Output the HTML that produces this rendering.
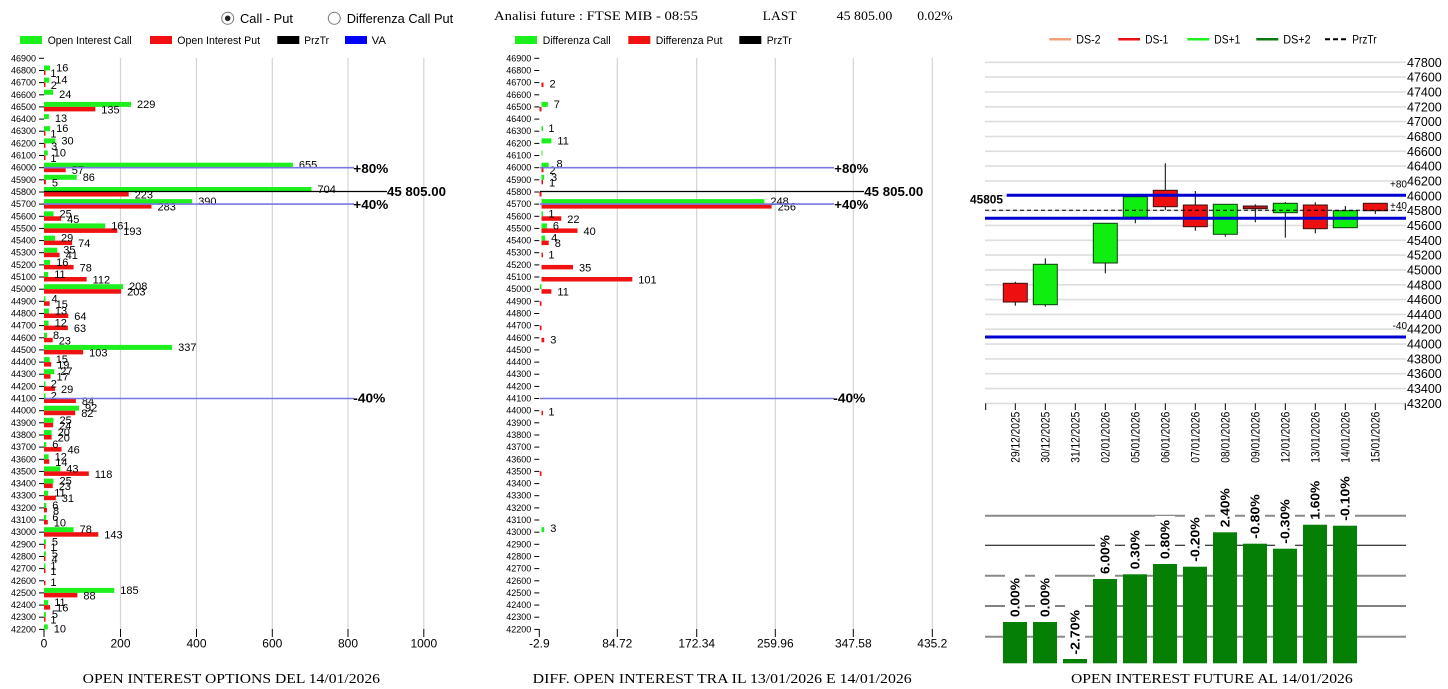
<!DOCTYPE html>
<html><head><meta charset="utf-8"><style>
html,body{margin:0;padding:0;background:#fff;}
svg{display:block;}
svg text{font-family:"Liberation Sans",Arial,sans-serif;fill:#000;}
.tk{font-size:9px;text-anchor:end;}
.v{font-size:11px;}
.G{fill:#1ef01e;}
.R{fill:#f01212;}
.tm{stroke:#000;stroke-width:1;}
.sf{font-family:"Liberation Serif","Times New Roman",serif !important;}
.b{font-weight:bold;}
</style></head><body>
<svg width="1448" height="689" viewBox="0 0 1448 689" xmlns="http://www.w3.org/2000/svg">
<rect width="1448" height="689" fill="#fff"/>

<!-- HEADER -->
<circle cx="227.7" cy="18.3" r="6" fill="#fff" stroke="#777" stroke-width="1"/>
<circle cx="227.7" cy="18.3" r="2.8" fill="#222"/>
<text x="240" y="22.8" font-size="13" textLength="53" lengthAdjust="spacingAndGlyphs">Call - Put</text>
<circle cx="334.3" cy="18.3" r="6" fill="#fff" stroke="#777" stroke-width="1"/>
<text x="346.7" y="22.8" font-size="13" textLength="106.5" lengthAdjust="spacingAndGlyphs">Differenza Call Put</text>
<text class="sf" x="494" y="20" font-size="13" textLength="204" lengthAdjust="spacingAndGlyphs">Analisi future : FTSE MIB - 08:55</text>
<text class="sf" x="762.7" y="20" font-size="13" textLength="34" lengthAdjust="spacingAndGlyphs">LAST</text>
<text class="sf" x="836.7" y="20" font-size="13" textLength="55.6" lengthAdjust="spacingAndGlyphs">45 805.00</text>
<text class="sf" x="917.3" y="20" font-size="13" textLength="35.3" lengthAdjust="spacingAndGlyphs">0.02%</text>

<!-- LEFT LEGEND -->
<rect x="20" y="36" width="22" height="8" class="G"/>
<text x="47.7" y="44" font-size="11" textLength="84" lengthAdjust="spacingAndGlyphs">Open Interest Call</text>
<rect x="150" y="36" width="22" height="8" class="R"/>
<text x="177.3" y="44" font-size="11" textLength="82.7" lengthAdjust="spacingAndGlyphs">Open Interest Put</text>
<rect x="277.3" y="36" width="22" height="8" fill="#000"/>
<text x="304.3" y="44" font-size="11" textLength="24.7" lengthAdjust="spacingAndGlyphs">PrzTr</text>
<rect x="345" y="36" width="22" height="8" fill="#0000ff"/>
<text x="371.7" y="44" font-size="11" textLength="14.3" lengthAdjust="spacingAndGlyphs">VA</text>

<!-- MIDDLE LEGEND -->
<rect x="515" y="36" width="22" height="8" class="G"/>
<text x="542.7" y="44" font-size="11" textLength="68" lengthAdjust="spacingAndGlyphs">Differenza Call</text>
<rect x="628.3" y="36" width="22" height="8" class="R"/>
<text x="655.7" y="44" font-size="11" textLength="66.7" lengthAdjust="spacingAndGlyphs">Differenza Put</text>
<rect x="739.3" y="36" width="22" height="8" fill="#000"/>
<text x="766.7" y="44" font-size="11" textLength="25" lengthAdjust="spacingAndGlyphs">PrzTr</text>

<!-- LEFT CHART GRID -->
<g stroke="#d4d4d4" stroke-width="1.2">
<line x1="120.5" y1="58" x2="120.5" y2="629"/>
<line x1="196.5" y1="58" x2="196.5" y2="629"/>
<line x1="272.3" y1="58" x2="272.3" y2="629"/>
<line x1="348" y1="58" x2="348" y2="629"/>
<line x1="423.8" y1="58" x2="423.8" y2="629"/>
</g>
<g class="tm">
<line x1="44" y1="629" x2="44" y2="637"/>
<line x1="120.5" y1="629" x2="120.5" y2="637"/>
<line x1="196.5" y1="629" x2="196.5" y2="637"/>
<line x1="272.3" y1="629" x2="272.3" y2="637"/>
<line x1="348" y1="629" x2="348" y2="637"/>
<line x1="423.8" y1="629" x2="423.8" y2="637"/>
</g>
<g font-size="12" text-anchor="middle">
<text x="44" y="647.5">0</text>
<text x="120.5" y="647.5">200</text>
<text x="196.5" y="647.5">400</text>
<text x="272.3" y="647.5">600</text>
<text x="348" y="647.5">800</text>
<text x="423.8" y="647.5">1000</text>
</g>

<!-- LEFT ROWS -->
<g transform="translate(0,58.3)"><text class="tk" x="36" y="3">46900</text><path class="tm" d="M39 0h5"/></g>
<g transform="translate(0,70.5)"><text class="tk" x="36" y="3">46800</text><path class="tm" d="M39 0h5"/><rect x="44" y="-5" width="6.1" height="5" class="G"/><rect x="44" y="0" width="1.5" height="4.5" class="R"/><text class="v" x="56.1" y="1">16</text><text class="v" x="50.4" y="6.5">1</text></g>
<g transform="translate(0,82.6)"><text class="tk" x="36" y="3">46700</text><path class="tm" d="M39 0h5"/><rect x="44" y="-5" width="5.3" height="5" class="G"/><rect x="44" y="0" width="1.5" height="4.5" class="R"/><text class="v" x="55.3" y="1">14</text><text class="v" x="50.8" y="6.5">2</text></g>
<g transform="translate(0,94.8)"><text class="tk" x="36" y="3">46600</text><path class="tm" d="M39 0h5"/><rect x="44" y="-5" width="9.1" height="5" class="G"/><text class="v" x="59.1" y="3">24</text></g>
<g transform="translate(0,106.9)"><text class="tk" x="36" y="3">46500</text><path class="tm" d="M39 0h5"/><rect x="44" y="-5" width="87" height="5" class="G"/><rect x="44" y="0" width="51.3" height="4.5" class="R"/><text class="v" x="137" y="1">229</text><text class="v" x="101.3" y="6.5">135</text></g>
<g transform="translate(0,119.1)"><text class="tk" x="36" y="3">46400</text><path class="tm" d="M39 0h5"/><rect x="44" y="-5" width="4.9" height="5" class="G"/><text class="v" x="54.9" y="3">13</text></g>
<g transform="translate(0,131.2)"><text class="tk" x="36" y="3">46300</text><path class="tm" d="M39 0h5"/><rect x="44" y="-5" width="6.1" height="5" class="G"/><rect x="44" y="0" width="1.5" height="4.5" class="R"/><text class="v" x="56.1" y="1">16</text><text class="v" x="50.4" y="6.5">1</text></g>
<g transform="translate(0,143.4)"><text class="tk" x="36" y="3">46200</text><path class="tm" d="M39 0h5"/><rect x="44" y="-5" width="11.4" height="5" class="G"/><rect x="44" y="0" width="1.5" height="4.5" class="R"/><text class="v" x="61.4" y="1">30</text><text class="v" x="51.1" y="6.5">3</text></g>
<g transform="translate(0,155.5)"><text class="tk" x="36" y="3">46100</text><path class="tm" d="M39 0h5"/><rect x="44" y="-5" width="3.8" height="5" class="G"/><rect x="44" y="0" width="1.5" height="4.5" class="R"/><text class="v" x="53.8" y="1">10</text><text class="v" x="50.4" y="6.5">1</text></g>
<g transform="translate(0,167.7)"><text class="tk" x="36" y="3">46000</text><path class="tm" d="M39 0h5"/><rect x="44" y="-5" width="248.9" height="5" class="G"/><rect x="44" y="0" width="21.7" height="4.5" class="R"/><text class="v" x="298.9" y="1">655</text><text class="v" x="71.7" y="6.5">57</text></g>
<g transform="translate(0,179.8)"><text class="tk" x="36" y="3">45900</text><path class="tm" d="M39 0h5"/><rect x="44" y="-5" width="32.7" height="5" class="G"/><rect x="44" y="0" width="1.9" height="4.5" class="R"/><text class="v" x="82.7" y="1">86</text><text class="v" x="51.9" y="6.5">5</text></g>
<g transform="translate(0,192)"><text class="tk" x="36" y="3">45800</text><path class="tm" d="M39 0h5"/><rect x="44" y="-5" width="267.5" height="5" class="G"/><rect x="44" y="0" width="84.7" height="4.5" class="R"/><text class="v" x="317.5" y="1">704</text><text class="v" x="134.7" y="6.5">223</text></g>
<g transform="translate(0,204.1)"><text class="tk" x="36" y="3">45700</text><path class="tm" d="M39 0h5"/><rect x="44" y="-5" width="148.2" height="5" class="G"/><rect x="44" y="0" width="107.5" height="4.5" class="R"/><text class="v" x="198.2" y="1">390</text><text class="v" x="157.5" y="6.5">283</text></g>
<g transform="translate(0,216.3)"><text class="tk" x="36" y="3">45600</text><path class="tm" d="M39 0h5"/><rect x="44" y="-5" width="9.5" height="5" class="G"/><rect x="44" y="0" width="17.1" height="4.5" class="R"/><text class="v" x="59.5" y="1">25</text><text class="v" x="67.1" y="6.5">45</text></g>
<g transform="translate(0,228.4)"><text class="tk" x="36" y="3">45500</text><path class="tm" d="M39 0h5"/><rect x="44" y="-5" width="61.2" height="5" class="G"/><rect x="44" y="0" width="73.3" height="4.5" class="R"/><text class="v" x="111.2" y="1">161</text><text class="v" x="123.3" y="6.5">193</text></g>
<g transform="translate(0,240.6)"><text class="tk" x="36" y="3">45400</text><path class="tm" d="M39 0h5"/><rect x="44" y="-5" width="11" height="5" class="G"/><rect x="44" y="0" width="28.1" height="4.5" class="R"/><text class="v" x="61" y="1">29</text><text class="v" x="78.1" y="6.5">74</text></g>
<g transform="translate(0,252.7)"><text class="tk" x="36" y="3">45300</text><path class="tm" d="M39 0h5"/><rect x="44" y="-5" width="13.3" height="5" class="G"/><rect x="44" y="0" width="15.6" height="4.5" class="R"/><text class="v" x="63.3" y="1">35</text><text class="v" x="65.6" y="6.5">41</text></g>
<g transform="translate(0,264.9)"><text class="tk" x="36" y="3">45200</text><path class="tm" d="M39 0h5"/><rect x="44" y="-5" width="6.1" height="5" class="G"/><rect x="44" y="0" width="29.6" height="4.5" class="R"/><text class="v" x="56.1" y="1">16</text><text class="v" x="79.6" y="6.5">78</text></g>
<g transform="translate(0,277)"><text class="tk" x="36" y="3">45100</text><path class="tm" d="M39 0h5"/><rect x="44" y="-5" width="4.2" height="5" class="G"/><rect x="44" y="0" width="42.6" height="4.5" class="R"/><text class="v" x="54.2" y="1">11</text><text class="v" x="92.6" y="6.5">112</text></g>
<g transform="translate(0,289.2)"><text class="tk" x="36" y="3">45000</text><path class="tm" d="M39 0h5"/><rect x="44" y="-5" width="79" height="5" class="G"/><rect x="44" y="0" width="77.1" height="4.5" class="R"/><text class="v" x="129" y="1">208</text><text class="v" x="127.1" y="6.5">203</text></g>
<g transform="translate(0,301.3)"><text class="tk" x="36" y="3">44900</text><path class="tm" d="M39 0h5"/><rect x="44" y="-5" width="1.5" height="5" class="G"/><rect x="44" y="0" width="5.7" height="4.5" class="R"/><text class="v" x="51.5" y="1">4</text><text class="v" x="55.7" y="6.5">15</text></g>
<g transform="translate(0,313.5)"><text class="tk" x="36" y="3">44800</text><path class="tm" d="M39 0h5"/><rect x="44" y="-5" width="4.9" height="5" class="G"/><rect x="44" y="0" width="24.3" height="4.5" class="R"/><text class="v" x="54.9" y="1">13</text><text class="v" x="74.3" y="6.5">64</text></g>
<g transform="translate(0,325.6)"><text class="tk" x="36" y="3">44700</text><path class="tm" d="M39 0h5"/><rect x="44" y="-5" width="4.6" height="5" class="G"/><rect x="44" y="0" width="23.9" height="4.5" class="R"/><text class="v" x="54.6" y="1">12</text><text class="v" x="73.9" y="6.5">63</text></g>
<g transform="translate(0,337.8)"><text class="tk" x="36" y="3">44600</text><path class="tm" d="M39 0h5"/><rect x="44" y="-5" width="3" height="5" class="G"/><rect x="44" y="0" width="8.7" height="4.5" class="R"/><text class="v" x="53" y="1">8</text><text class="v" x="58.7" y="6.5">23</text></g>
<g transform="translate(0,349.9)"><text class="tk" x="36" y="3">44500</text><path class="tm" d="M39 0h5"/><rect x="44" y="-5" width="128.1" height="5" class="G"/><rect x="44" y="0" width="39.1" height="4.5" class="R"/><text class="v" x="178.1" y="1">337</text><text class="v" x="89.1" y="6.5">103</text></g>
<g transform="translate(0,362.1)"><text class="tk" x="36" y="3">44400</text><path class="tm" d="M39 0h5"/><rect x="44" y="-5" width="5.7" height="5" class="G"/><rect x="44" y="0" width="7.2" height="4.5" class="R"/><text class="v" x="55.7" y="1">15</text><text class="v" x="57.2" y="6.5">19</text></g>
<g transform="translate(0,374.2)"><text class="tk" x="36" y="3">44300</text><path class="tm" d="M39 0h5"/><rect x="44" y="-5" width="10.3" height="5" class="G"/><rect x="44" y="0" width="6.5" height="4.5" class="R"/><text class="v" x="60.3" y="1">27</text><text class="v" x="56.5" y="6.5">17</text></g>
<g transform="translate(0,386.4)"><text class="tk" x="36" y="3">44200</text><path class="tm" d="M39 0h5"/><rect x="44" y="-5" width="1.5" height="5" class="G"/><rect x="44" y="0" width="11" height="4.5" class="R"/><text class="v" x="50.8" y="1">2</text><text class="v" x="61" y="6.5">29</text></g>
<g transform="translate(0,398.5)"><text class="tk" x="36" y="3">44100</text><path class="tm" d="M39 0h5"/><rect x="44" y="-5" width="1.5" height="5" class="G"/><rect x="44" y="0" width="31.9" height="4.5" class="R"/><text class="v" x="50.8" y="1">2</text><text class="v" x="81.9" y="6.5">84</text></g>
<g transform="translate(0,410.7)"><text class="tk" x="36" y="3">44000</text><path class="tm" d="M39 0h5"/><rect x="44" y="-5" width="35" height="5" class="G"/><rect x="44" y="0" width="31.2" height="4.5" class="R"/><text class="v" x="85" y="1">92</text><text class="v" x="81.2" y="6.5">82</text></g>
<g transform="translate(0,422.8)"><text class="tk" x="36" y="3">43900</text><path class="tm" d="M39 0h5"/><rect x="44" y="-5" width="9.5" height="5" class="G"/><rect x="44" y="0" width="9.1" height="4.5" class="R"/><text class="v" x="59.5" y="1">25</text><text class="v" x="59.1" y="6.5">24</text></g>
<g transform="translate(0,435)"><text class="tk" x="36" y="3">43800</text><path class="tm" d="M39 0h5"/><rect x="44" y="-5" width="7.6" height="5" class="G"/><rect x="44" y="0" width="7.6" height="4.5" class="R"/><text class="v" x="57.6" y="1">20</text><text class="v" x="57.6" y="6.5">20</text></g>
<g transform="translate(0,447.1)"><text class="tk" x="36" y="3">43700</text><path class="tm" d="M39 0h5"/><rect x="44" y="-5" width="2.3" height="5" class="G"/><rect x="44" y="0" width="17.5" height="4.5" class="R"/><text class="v" x="52.3" y="1">6</text><text class="v" x="67.5" y="6.5">46</text></g>
<g transform="translate(0,459.3)"><text class="tk" x="36" y="3">43600</text><path class="tm" d="M39 0h5"/><rect x="44" y="-5" width="4.6" height="5" class="G"/><rect x="44" y="0" width="5.3" height="4.5" class="R"/><text class="v" x="54.6" y="1">12</text><text class="v" x="55.3" y="6.5">14</text></g>
<g transform="translate(0,471.4)"><text class="tk" x="36" y="3">43500</text><path class="tm" d="M39 0h5"/><rect x="44" y="-5" width="16.3" height="5" class="G"/><rect x="44" y="0" width="44.8" height="4.5" class="R"/><text class="v" x="66.3" y="1">43</text><text class="v" x="94.8" y="6.5">118</text></g>
<g transform="translate(0,483.6)"><text class="tk" x="36" y="3">43400</text><path class="tm" d="M39 0h5"/><rect x="44" y="-5" width="9.5" height="5" class="G"/><rect x="44" y="0" width="8.7" height="4.5" class="R"/><text class="v" x="59.5" y="1">25</text><text class="v" x="58.7" y="6.5">23</text></g>
<g transform="translate(0,495.7)"><text class="tk" x="36" y="3">43300</text><path class="tm" d="M39 0h5"/><rect x="44" y="-5" width="4.2" height="5" class="G"/><rect x="44" y="0" width="11.8" height="4.5" class="R"/><text class="v" x="54.2" y="1">11</text><text class="v" x="61.8" y="6.5">31</text></g>
<g transform="translate(0,507.9)"><text class="tk" x="36" y="3">43200</text><path class="tm" d="M39 0h5"/><rect x="44" y="-5" width="2.3" height="5" class="G"/><rect x="44" y="0" width="3" height="4.5" class="R"/><text class="v" x="52.3" y="1">6</text><text class="v" x="53" y="6.5">8</text></g>
<g transform="translate(0,520)"><text class="tk" x="36" y="3">43100</text><path class="tm" d="M39 0h5"/><rect x="44" y="-5" width="2.3" height="5" class="G"/><rect x="44" y="0" width="3.8" height="4.5" class="R"/><text class="v" x="52.3" y="1">6</text><text class="v" x="53.8" y="6.5">10</text></g>
<g transform="translate(0,532.2)"><text class="tk" x="36" y="3">43000</text><path class="tm" d="M39 0h5"/><rect x="44" y="-5" width="29.6" height="5" class="G"/><rect x="44" y="0" width="54.3" height="4.5" class="R"/><text class="v" x="79.6" y="1">78</text><text class="v" x="104.3" y="6.5">143</text></g>
<g transform="translate(0,544.3)"><text class="tk" x="36" y="3">42900</text><path class="tm" d="M39 0h5"/><rect x="44" y="-5" width="1.9" height="5" class="G"/><rect x="44" y="0" width="1.5" height="4.5" class="R"/><text class="v" x="51.9" y="1">5</text><text class="v" x="50.4" y="6.5">1</text></g>
<g transform="translate(0,556.5)"><text class="tk" x="36" y="3">42800</text><path class="tm" d="M39 0h5"/><rect x="44" y="-5" width="1.9" height="5" class="G"/><rect x="44" y="0" width="1.5" height="4.5" class="R"/><text class="v" x="51.9" y="1">5</text><text class="v" x="51.5" y="6.5">4</text></g>
<g transform="translate(0,568.6)"><text class="tk" x="36" y="3">42700</text><path class="tm" d="M39 0h5"/><rect x="44" y="-5" width="1.5" height="5" class="G"/><rect x="44" y="0" width="1.5" height="4.5" class="R"/><text class="v" x="50.4" y="1">1</text><text class="v" x="50.4" y="6.5">1</text></g>
<g transform="translate(0,580.8)"><text class="tk" x="36" y="3">42600</text><path class="tm" d="M39 0h5"/><rect x="44" y="0" width="1.5" height="4.5" class="R"/><text class="v" x="50.4" y="5">1</text></g>
<g transform="translate(0,592.9)"><text class="tk" x="36" y="3">42500</text><path class="tm" d="M39 0h5"/><rect x="44" y="-5" width="70.3" height="5" class="G"/><rect x="44" y="0" width="33.4" height="4.5" class="R"/><text class="v" x="120.3" y="1">185</text><text class="v" x="83.4" y="6.5">88</text></g>
<g transform="translate(0,605.1)"><text class="tk" x="36" y="3">42400</text><path class="tm" d="M39 0h5"/><rect x="44" y="-5" width="4.2" height="5" class="G"/><rect x="44" y="0" width="6.1" height="4.5" class="R"/><text class="v" x="54.2" y="1">11</text><text class="v" x="56.1" y="6.5">16</text></g>
<g transform="translate(0,617.2)"><text class="tk" x="36" y="3">42300</text><path class="tm" d="M39 0h5"/><rect x="44" y="-5" width="1.9" height="5" class="G"/><rect x="44" y="0" width="1.5" height="4.5" class="R"/><text class="v" x="51.9" y="1">5</text><text class="v" x="50.4" y="6.5">1</text></g>
<g transform="translate(0,629.4)"><text class="tk" x="36" y="3">42200</text><path class="tm" d="M39 0h5"/><rect x="44" y="-5" width="3.8" height="5" class="G"/><text class="v" x="53.8" y="3">10</text></g>

<!-- LEFT overlay lines -->
<g stroke="#7878e0" stroke-width="1.6">
<line x1="44" y1="167.7" x2="354" y2="167.7"/>
<line x1="44" y1="204.1" x2="354" y2="204.1"/>
<line x1="44" y1="398.5" x2="354" y2="398.5"/>
</g>
<line x1="44" y1="191.5" x2="387" y2="191.5" stroke="#000" stroke-width="1.2"/>
<g class="b" font-size="13">
<text x="353.3" y="173" textLength="35" lengthAdjust="spacingAndGlyphs">+80%</text>
<text x="353.3" y="209" textLength="35" lengthAdjust="spacingAndGlyphs">+40%</text>
<text x="353.3" y="402.5" textLength="32" lengthAdjust="spacingAndGlyphs">-40%</text>
<text x="387" y="196" textLength="59" lengthAdjust="spacingAndGlyphs">45 805.00</text>
</g>

<!-- MIDDLE CHART GRID -->
<g stroke="#d4d4d4" stroke-width="1.2">
<line x1="617.3" y1="58" x2="617.3" y2="629"/>
<line x1="696.7" y1="58" x2="696.7" y2="629"/>
<line x1="775.3" y1="58" x2="775.3" y2="629"/>
<line x1="853.3" y1="58" x2="853.3" y2="629"/>
<line x1="932.3" y1="58" x2="932.3" y2="629"/>
</g>
<g class="tm">
<line x1="539.3" y1="629" x2="539.3" y2="637"/>
<line x1="617.3" y1="629" x2="617.3" y2="637"/>
<line x1="696.7" y1="629" x2="696.7" y2="637"/>
<line x1="775.3" y1="629" x2="775.3" y2="637"/>
<line x1="853.3" y1="629" x2="853.3" y2="637"/>
<line x1="932.3" y1="629" x2="932.3" y2="637"/>
</g>
<g font-size="12" text-anchor="middle">
<text x="539.3" y="647.5">-2.9</text>
<text x="617.3" y="647.5">84.72</text>
<text x="696.7" y="647.5">172.34</text>
<text x="775.3" y="647.5">259.96</text>
<text x="853.3" y="647.5">347.58</text>
<text x="932.3" y="647.5">435.2</text>
</g>

<!-- MIDDLE ROWS -->
<g transform="translate(0,58.3)"><text class="tk" x="531.3" y="3">46900</text><path class="tm" d="M534.3 0h5"/></g>
<g transform="translate(0,70.5)"><text class="tk" x="531.3" y="3">46800</text><path class="tm" d="M534.3 0h5"/></g>
<g transform="translate(0,82.6)"><text class="tk" x="531.3" y="3">46700</text><path class="tm" d="M534.3 0h5"/><rect x="541.5" y="0" width="2" height="4.5" class="R"/><text class="v" x="549.5" y="5">2</text></g>
<g transform="translate(0,94.8)"><text class="tk" x="531.3" y="3">46600</text><path class="tm" d="M534.3 0h5"/></g>
<g transform="translate(0,106.9)"><text class="tk" x="531.3" y="3">46500</text><path class="tm" d="M534.3 0h5"/><rect x="541.5" y="-5" width="6.3" height="5" class="G"/><rect x="539.5" y="0" width="2" height="4.5" class="R"/><text class="v" x="553.8" y="1">7</text></g>
<g transform="translate(0,119.1)"><text class="tk" x="531.3" y="3">46400</text><path class="tm" d="M534.3 0h5"/></g>
<g transform="translate(0,131.2)"><text class="tk" x="531.3" y="3">46300</text><path class="tm" d="M534.3 0h5"/><rect x="541.5" y="-5" width="1.5" height="5" class="G"/><text class="v" x="548.4" y="1">1</text></g>
<g transform="translate(0,143.4)"><text class="tk" x="531.3" y="3">46200</text><path class="tm" d="M534.3 0h5"/><rect x="541.5" y="-5" width="9.9" height="5" class="G"/><text class="v" x="557.4" y="1">11</text></g>
<g transform="translate(0,155.5)"><text class="tk" x="531.3" y="3">46100</text><path class="tm" d="M534.3 0h5"/><rect x="541.5" y="-5" width="1" height="5" class="G"/></g>
<g transform="translate(0,167.7)"><text class="tk" x="531.3" y="3">46000</text><path class="tm" d="M534.3 0h5"/><rect x="541.5" y="-5" width="7.2" height="5" class="G"/><rect x="541.5" y="0" width="2" height="4.5" class="R"/><text class="v" x="556.5" y="0">8</text><text class="v" x="549.5" y="6.5">2</text></g>
<g transform="translate(0,179.8)"><text class="tk" x="531.3" y="3">45900</text><path class="tm" d="M534.3 0h5"/><rect x="541.5" y="-5" width="2.7" height="5" class="G"/><rect x="541.5" y="0" width="1.5" height="4.5" class="R"/><text class="v" x="551" y="1">3</text><text class="v" x="549" y="6.5">1</text></g>
<g transform="translate(0,192)"><text class="tk" x="531.3" y="3">45800</text><path class="tm" d="M534.3 0h5"/><rect x="539.5" y="0" width="2" height="4.5" class="R"/></g>
<g transform="translate(0,204.1)"><text class="tk" x="531.3" y="3">45700</text><path class="tm" d="M534.3 0h5"/><rect x="541.5" y="-5" width="222.9" height="5" class="G"/><rect x="541.5" y="0" width="230.1" height="4.5" class="R"/><text class="v" x="770.4" y="1">248</text><text class="v" x="777.6" y="6.5">256</text></g>
<g transform="translate(0,216.3)"><text class="tk" x="531.3" y="3">45600</text><path class="tm" d="M534.3 0h5"/><rect x="541.5" y="-5" width="1.5" height="5" class="G"/><rect x="541.5" y="0" width="19.8" height="4.5" class="R"/><text class="v" x="548.4" y="1">1</text><text class="v" x="567.3" y="6.5">22</text></g>
<g transform="translate(0,228.4)"><text class="tk" x="531.3" y="3">45500</text><path class="tm" d="M534.3 0h5"/><rect x="541.5" y="-5" width="5.4" height="5" class="G"/><rect x="541.5" y="0" width="36" height="4.5" class="R"/><text class="v" x="552.9" y="1">6</text><text class="v" x="583.5" y="6.5">40</text></g>
<g transform="translate(0,240.6)"><text class="tk" x="531.3" y="3">45400</text><path class="tm" d="M534.3 0h5"/><rect x="541.5" y="-5" width="3.6" height="5" class="G"/><rect x="541.5" y="0" width="7.2" height="4.5" class="R"/><text class="v" x="551.1" y="1">4</text><text class="v" x="554.7" y="6.5">8</text></g>
<g transform="translate(0,252.7)"><text class="tk" x="531.3" y="3">45300</text><path class="tm" d="M534.3 0h5"/><rect x="541.5" y="0" width="1.5" height="4.5" class="R"/><text class="v" x="548.4" y="6">1</text></g>
<g transform="translate(0,264.9)"><text class="tk" x="531.3" y="3">45200</text><path class="tm" d="M534.3 0h5"/><rect x="541.5" y="0" width="31.5" height="4.5" class="R"/><text class="v" x="579" y="6.5">35</text></g>
<g transform="translate(0,277)"><text class="tk" x="531.3" y="3">45100</text><path class="tm" d="M534.3 0h5"/><rect x="541.5" y="0" width="90.8" height="4.5" class="R"/><text class="v" x="638.3" y="6.5">101</text></g>
<g transform="translate(0,289.2)"><text class="tk" x="531.3" y="3">45000</text><path class="tm" d="M534.3 0h5"/><rect x="540" y="-5" width="1.5" height="5" class="G"/><rect x="541.5" y="0" width="9.9" height="4.5" class="R"/><text class="v" x="557.4" y="6.5">11</text></g>
<g transform="translate(0,301.3)"><text class="tk" x="531.3" y="3">44900</text><path class="tm" d="M534.3 0h5"/><rect x="539.8" y="0" width="1.7" height="4.5" class="R"/></g>
<g transform="translate(0,313.5)"><text class="tk" x="531.3" y="3">44800</text><path class="tm" d="M534.3 0h5"/></g>
<g transform="translate(0,325.6)"><text class="tk" x="531.3" y="3">44700</text><path class="tm" d="M534.3 0h5"/><rect x="539.8" y="0" width="1.7" height="4.5" class="R"/></g>
<g transform="translate(0,337.8)"><text class="tk" x="531.3" y="3">44600</text><path class="tm" d="M534.3 0h5"/><rect x="541.5" y="0" width="2.7" height="4.5" class="R"/><text class="v" x="550.2" y="5.5">3</text></g>
<g transform="translate(0,349.9)"><text class="tk" x="531.3" y="3">44500</text><path class="tm" d="M534.3 0h5"/></g>
<g transform="translate(0,362.1)"><text class="tk" x="531.3" y="3">44400</text><path class="tm" d="M534.3 0h5"/></g>
<g transform="translate(0,374.2)"><text class="tk" x="531.3" y="3">44300</text><path class="tm" d="M534.3 0h5"/></g>
<g transform="translate(0,386.4)"><text class="tk" x="531.3" y="3">44200</text><path class="tm" d="M534.3 0h5"/></g>
<g transform="translate(0,398.5)"><text class="tk" x="531.3" y="3">44100</text><path class="tm" d="M534.3 0h5"/></g>
<g transform="translate(0,410.7)"><text class="tk" x="531.3" y="3">44000</text><path class="tm" d="M534.3 0h5"/><rect x="541.5" y="0" width="1.5" height="4.5" class="R"/><text class="v" x="548.4" y="5">1</text></g>
<g transform="translate(0,422.8)"><text class="tk" x="531.3" y="3">43900</text><path class="tm" d="M534.3 0h5"/></g>
<g transform="translate(0,435)"><text class="tk" x="531.3" y="3">43800</text><path class="tm" d="M534.3 0h5"/></g>
<g transform="translate(0,447.1)"><text class="tk" x="531.3" y="3">43700</text><path class="tm" d="M534.3 0h5"/></g>
<g transform="translate(0,459.3)"><text class="tk" x="531.3" y="3">43600</text><path class="tm" d="M534.3 0h5"/></g>
<g transform="translate(0,471.4)"><text class="tk" x="531.3" y="3">43500</text><path class="tm" d="M534.3 0h5"/><rect x="539.8" y="0" width="1.7" height="4.5" class="R"/></g>
<g transform="translate(0,483.6)"><text class="tk" x="531.3" y="3">43400</text><path class="tm" d="M534.3 0h5"/></g>
<g transform="translate(0,495.7)"><text class="tk" x="531.3" y="3">43300</text><path class="tm" d="M534.3 0h5"/></g>
<g transform="translate(0,507.9)"><text class="tk" x="531.3" y="3">43200</text><path class="tm" d="M534.3 0h5"/></g>
<g transform="translate(0,520)"><text class="tk" x="531.3" y="3">43100</text><path class="tm" d="M534.3 0h5"/></g>
<g transform="translate(0,532.2)"><text class="tk" x="531.3" y="3">43000</text><path class="tm" d="M534.3 0h5"/><rect x="541.5" y="-5" width="2.7" height="5" class="G"/><text class="v" x="550.2" y="0">3</text></g>
<g transform="translate(0,544.3)"><text class="tk" x="531.3" y="3">42900</text><path class="tm" d="M534.3 0h5"/></g>
<g transform="translate(0,556.5)"><text class="tk" x="531.3" y="3">42800</text><path class="tm" d="M534.3 0h5"/></g>
<g transform="translate(0,568.6)"><text class="tk" x="531.3" y="3">42700</text><path class="tm" d="M534.3 0h5"/></g>
<g transform="translate(0,580.8)"><text class="tk" x="531.3" y="3">42600</text><path class="tm" d="M534.3 0h5"/></g>
<g transform="translate(0,592.9)"><text class="tk" x="531.3" y="3">42500</text><path class="tm" d="M534.3 0h5"/></g>
<g transform="translate(0,605.1)"><text class="tk" x="531.3" y="3">42400</text><path class="tm" d="M534.3 0h5"/></g>
<g transform="translate(0,617.2)"><text class="tk" x="531.3" y="3">42300</text><path class="tm" d="M534.3 0h5"/></g>
<g transform="translate(0,629.4)"><text class="tk" x="531.3" y="3">42200</text><path class="tm" d="M534.3 0h5"/></g>

<!-- MIDDLE overlay lines -->
<g stroke="#7878e0" stroke-width="1.6">
<line x1="540" y1="167.7" x2="834" y2="167.7"/>
<line x1="540" y1="204.1" x2="834" y2="204.1"/>
<line x1="540" y1="398.5" x2="834" y2="398.5"/>
</g>
<line x1="540" y1="191.5" x2="864" y2="191.5" stroke="#000" stroke-width="1.2"/>
<g class="b" font-size="13">
<text x="834.3" y="173" textLength="34" lengthAdjust="spacingAndGlyphs">+80%</text>
<text x="834.3" y="209" textLength="34" lengthAdjust="spacingAndGlyphs">+40%</text>
<text x="833.3" y="402.5" textLength="32" lengthAdjust="spacingAndGlyphs">-40%</text>
<text x="864.3" y="196" textLength="59" lengthAdjust="spacingAndGlyphs">45 805.00</text>
</g>

<!-- BOTTOM TITLES -->
<text class="sf" x="82.7" y="683" font-size="14" textLength="297.3" lengthAdjust="spacingAndGlyphs">OPEN INTEREST OPTIONS DEL 14/01/2026</text>
<text class="sf" x="532.7" y="683" font-size="14" textLength="379" lengthAdjust="spacingAndGlyphs">DIFF. OPEN INTEREST TRA IL 13/01/2026 E 14/01/2026</text>
<text class="sf" x="1071" y="683" font-size="14" textLength="281.7" lengthAdjust="spacingAndGlyphs">OPEN INTEREST FUTURE AL 14/01/2026</text>

<!-- RIGHT LEGEND -->
<line x1="1049.3" y1="39.3" x2="1071" y2="39.3" stroke="#f0a07a" stroke-width="2.5"/>
<text x="1076.3" y="43.6" font-size="12" textLength="24.3" lengthAdjust="spacingAndGlyphs">DS-2</text>
<line x1="1118.3" y1="39.3" x2="1140" y2="39.3" stroke="#e81010" stroke-width="2.5"/>
<text x="1145.3" y="43.6" font-size="12" textLength="23" lengthAdjust="spacingAndGlyphs">DS-1</text>
<line x1="1187.3" y1="39.3" x2="1209.3" y2="39.3" stroke="#22ee22" stroke-width="2.5"/>
<text x="1214.3" y="43.6" font-size="12" textLength="26" lengthAdjust="spacingAndGlyphs">DS+1</text>
<line x1="1256.3" y1="39.3" x2="1278.3" y2="39.3" stroke="#0a7a0a" stroke-width="2.5"/>
<text x="1283.3" y="43.6" font-size="12" textLength="27.3" lengthAdjust="spacingAndGlyphs">DS+2</text>
<line x1="1325" y1="39.3" x2="1347" y2="39.3" stroke="#000" stroke-width="2" stroke-dasharray="5,3"/>
<text x="1352.3" y="43.6" font-size="12" textLength="24.3" lengthAdjust="spacingAndGlyphs">PrzTr</text>

<!-- RIGHT CANDLE CHART GRID -->
<g stroke="#dedede" stroke-width="1.6">
<line x1="985" y1="62.3" x2="1406" y2="62.3"/>
<line x1="985" y1="77.1" x2="1406" y2="77.1"/>
<line x1="985" y1="92" x2="1406" y2="92"/>
<line x1="985" y1="106.8" x2="1406" y2="106.8"/>
<line x1="985" y1="121.6" x2="1406" y2="121.6"/>
<line x1="985" y1="136.5" x2="1406" y2="136.5"/>
<line x1="985" y1="151.3" x2="1406" y2="151.3"/>
<line x1="985" y1="166.1" x2="1406" y2="166.1"/>
<line x1="985" y1="180.9" x2="1406" y2="180.9"/>
<line x1="985" y1="195.8" x2="1406" y2="195.8"/>
<line x1="985" y1="210.6" x2="1406" y2="210.6"/>
<line x1="985" y1="225.4" x2="1406" y2="225.4"/>
<line x1="985" y1="240.3" x2="1406" y2="240.3"/>
<line x1="985" y1="255.1" x2="1406" y2="255.1"/>
<line x1="985" y1="269.9" x2="1406" y2="269.9"/>
<line x1="985" y1="284.8" x2="1406" y2="284.8"/>
<line x1="985" y1="299.6" x2="1406" y2="299.6"/>
<line x1="985" y1="314.4" x2="1406" y2="314.4"/>
<line x1="985" y1="329.2" x2="1406" y2="329.2"/>
<line x1="985" y1="344.1" x2="1406" y2="344.1"/>
<line x1="985" y1="358.9" x2="1406" y2="358.9"/>
<line x1="985" y1="373.7" x2="1406" y2="373.7"/>
<line x1="985" y1="388.6" x2="1406" y2="388.6"/>
<line x1="985" y1="403.4" x2="1406" y2="403.4"/>
</g>
<g font-size="12.5">
<text x="1407" y="66.8">47800</text>
<text x="1407" y="81.6">47600</text>
<text x="1407" y="96.5">47400</text>
<text x="1407" y="111.3">47200</text>
<text x="1407" y="126.1">47000</text>
<text x="1407" y="141">46800</text>
<text x="1407" y="155.8">46600</text>
<text x="1407" y="170.6">46400</text>
<text x="1407" y="185.4">46200</text>
<text x="1407" y="200.3">46000</text>
<text x="1407" y="215.1">45800</text>
<text x="1407" y="229.9">45600</text>
<text x="1407" y="244.8">45400</text>
<text x="1407" y="259.6">45200</text>
<text x="1407" y="274.4">45000</text>
<text x="1407" y="289.3">44800</text>
<text x="1407" y="304.1">44600</text>
<text x="1407" y="318.9">44400</text>
<text x="1407" y="333.7">44200</text>
<text x="1407" y="348.6">44000</text>
<text x="1407" y="363.4">43800</text>
<text x="1407" y="378.2">43600</text>
<text x="1407" y="393.1">43400</text>
<text x="1407" y="407.9">43200</text>
</g>
<!-- x ticks -->
<g class="tm">
<line x1="985.7" y1="403.4" x2="985.7" y2="410"/>
<line x1="1015.3" y1="403.4" x2="1015.3" y2="410"/>
<line x1="1045.3" y1="403.4" x2="1045.3" y2="410"/>
<line x1="1075.3" y1="403.4" x2="1075.3" y2="410"/>
<line x1="1105.3" y1="403.4" x2="1105.3" y2="410"/>
<line x1="1135.3" y1="403.4" x2="1135.3" y2="410"/>
<line x1="1165.3" y1="403.4" x2="1165.3" y2="410"/>
<line x1="1195.3" y1="403.4" x2="1195.3" y2="410"/>
<line x1="1225.3" y1="403.4" x2="1225.3" y2="410"/>
<line x1="1255.3" y1="403.4" x2="1255.3" y2="410"/>
<line x1="1285.3" y1="403.4" x2="1285.3" y2="410"/>
<line x1="1315.3" y1="403.4" x2="1315.3" y2="410"/>
<line x1="1345.3" y1="403.4" x2="1345.3" y2="410"/>
<line x1="1375.3" y1="403.4" x2="1375.3" y2="410"/>
<line x1="1405.3" y1="403.4" x2="1405.3" y2="410"/>
</g>
<g font-size="12" text-anchor="end">
<text transform="translate(1019.6,411.7) rotate(-90)" textLength="51" lengthAdjust="spacingAndGlyphs">29/12/2025</text>
<text transform="translate(1049.6,411.7) rotate(-90)" textLength="51" lengthAdjust="spacingAndGlyphs">30/12/2025</text>
<text transform="translate(1079.6,411.7) rotate(-90)" textLength="51" lengthAdjust="spacingAndGlyphs">31/12/2025</text>
<text transform="translate(1109.6,411.7) rotate(-90)" textLength="51" lengthAdjust="spacingAndGlyphs">02/01/2026</text>
<text transform="translate(1139.6,411.7) rotate(-90)" textLength="51" lengthAdjust="spacingAndGlyphs">05/01/2026</text>
<text transform="translate(1169.6,411.7) rotate(-90)" textLength="51" lengthAdjust="spacingAndGlyphs">06/01/2026</text>
<text transform="translate(1199.6,411.7) rotate(-90)" textLength="51" lengthAdjust="spacingAndGlyphs">07/01/2026</text>
<text transform="translate(1229.6,411.7) rotate(-90)" textLength="51" lengthAdjust="spacingAndGlyphs">08/01/2026</text>
<text transform="translate(1259.6,411.7) rotate(-90)" textLength="51" lengthAdjust="spacingAndGlyphs">09/01/2026</text>
<text transform="translate(1289.6,411.7) rotate(-90)" textLength="51" lengthAdjust="spacingAndGlyphs">12/01/2026</text>
<text transform="translate(1319.6,411.7) rotate(-90)" textLength="51" lengthAdjust="spacingAndGlyphs">13/01/2026</text>
<text transform="translate(1349.6,411.7) rotate(-90)" textLength="51" lengthAdjust="spacingAndGlyphs">14/01/2026</text>
<text transform="translate(1379.6,411.7) rotate(-90)" textLength="51" lengthAdjust="spacingAndGlyphs">15/01/2026</text>
</g>

<!-- candles -->
<g stroke="#000" stroke-width="1">
<line x1="1015.3" y1="281.7" x2="1015.3" y2="305.7"/>
<line x1="1045.3" y1="258.3" x2="1045.3" y2="306.7"/>
<line x1="1105.3" y1="223.3" x2="1105.3" y2="273.3"/>
<line x1="1135.3" y1="195.7" x2="1135.3" y2="223.3"/>
<line x1="1165.3" y1="163.3" x2="1165.3" y2="210"/>
<line x1="1195.3" y1="191" x2="1195.3" y2="230.7"/>
<line x1="1225.3" y1="204.3" x2="1225.3" y2="236.7"/>
<line x1="1255.3" y1="204.3" x2="1255.3" y2="222.3"/>
<line x1="1285.3" y1="202" x2="1285.3" y2="237.7"/>
<line x1="1315.3" y1="202.3" x2="1315.3" y2="233.3"/>
<line x1="1345.3" y1="206" x2="1345.3" y2="227.7"/>
<line x1="1375.3" y1="203.3" x2="1375.3" y2="214"/>
</g>
<g stroke="#3a1010" stroke-width="1">
<rect x="1003.3" y="283.3" width="24" height="18.7" fill="#ee1010"/>
<rect x="1033.3" y="264.3" width="24" height="40.4" fill="#10ee10" stroke="#103a10"/>
<rect x="1093.3" y="223.3" width="24" height="39.7" fill="#10ee10" stroke="#103a10"/>
<rect x="1123.3" y="196.7" width="24" height="20.6" fill="#10ee10" stroke="#103a10"/>
<rect x="1153.3" y="190.3" width="24" height="16.4" fill="#ee1010"/>
<rect x="1183.3" y="205" width="24" height="21.7" fill="#ee1010"/>
<rect x="1213.3" y="204.3" width="24" height="30" fill="#10ee10" stroke="#103a10"/>
<rect x="1243.3" y="206" width="24" height="2.7" fill="#b01818"/>
<rect x="1273.3" y="203.3" width="24" height="9.4" fill="#10ee10" stroke="#103a10"/>
<rect x="1303.3" y="205" width="24" height="23.7" fill="#ee1010"/>
<rect x="1333.3" y="210.7" width="24" height="17" fill="#10ee10" stroke="#103a10"/>
<rect x="1363.3" y="203.3" width="24" height="7.4" fill="#ee1010"/>
</g>
<!-- PrzTr dashed + VA lines -->
<line x1="985" y1="210.3" x2="1406" y2="210.3" stroke="#000" stroke-width="1" stroke-dasharray="4,3"/>
<g stroke="#0000d0" stroke-width="3">
<line x1="1006.7" y1="195.3" x2="1406" y2="195.3"/>
<line x1="985" y1="218.2" x2="1406" y2="218.2"/>
<line x1="985" y1="337" x2="1406" y2="337"/>
</g>
<g font-size="10" text-anchor="end">
<text x="1407" y="187.5">+80</text>
<text x="1407" y="209">+40</text>
<text x="1407" y="329">-40</text>
</g>
<text class="b" x="970" y="203.6" font-size="12" textLength="33" lengthAdjust="spacingAndGlyphs">45805</text>

<!-- BOTTOM BAR CHART -->
<line x1="985" y1="515.7" x2="1406" y2="515.7" stroke="#8a8a8a" stroke-width="2"/>
<line x1="985" y1="545.3" x2="1406" y2="545.3" stroke="#000" stroke-width="1"/>
<line x1="985" y1="575.7" x2="1406" y2="575.7" stroke="#8a8a8a" stroke-width="2"/>
<line x1="985" y1="606" x2="1406" y2="606" stroke="#000" stroke-width="1"/>
<line x1="985" y1="636.7" x2="1406" y2="636.7" stroke="#8a8a8a" stroke-width="2"/>
<g fill="#058005">
<rect x="1003" y="622" width="24" height="41.3"/>
<rect x="1033" y="622" width="24" height="41.3"/>
<rect x="1063" y="659" width="24" height="4.3"/>
<rect x="1093" y="579" width="24" height="84.3"/>
<rect x="1123" y="574.3" width="24" height="89"/>
<rect x="1153" y="564" width="24" height="99.3"/>
<rect x="1183" y="566.7" width="24" height="96.6"/>
<rect x="1213" y="532.3" width="24" height="131"/>
<rect x="1243" y="543.7" width="24" height="119.6"/>
<rect x="1273" y="548.7" width="24" height="114.6"/>
<rect x="1303" y="524.7" width="24" height="138.6"/>
<rect x="1333" y="525.7" width="24" height="137.6"/>
</g>
<!-- label backgrounds -->
<g fill="#fff">
<rect x="1005" y="574" width="20" height="45"/>
<rect x="1035" y="574" width="20" height="45"/>
<rect x="1065" y="605.5" width="20" height="52"/>
<rect x="1095" y="531" width="20" height="46"/>
<rect x="1125" y="526.3" width="20" height="46"/>
<rect x="1155" y="516" width="20" height="46"/>
<rect x="1185" y="513.2" width="20" height="51"/>
<rect x="1215" y="484.3" width="20" height="46"/>
<rect x="1245" y="490.2" width="20" height="51"/>
<rect x="1275" y="495.2" width="20" height="51"/>
<rect x="1305" y="476.7" width="20" height="46"/>
<rect x="1335" y="472.2" width="20" height="51"/>
</g>
<g class="b" font-size="13">
<text transform="translate(1019.7,617) rotate(-90)" textLength="39" lengthAdjust="spacingAndGlyphs">0.00%</text>
<text transform="translate(1049.7,617) rotate(-90)" textLength="39" lengthAdjust="spacingAndGlyphs">0.00%</text>
<text transform="translate(1079.7,654.5) rotate(-90)" textLength="44.5" lengthAdjust="spacingAndGlyphs">-2.70%</text>
<text transform="translate(1109.7,574) rotate(-90)" textLength="39" lengthAdjust="spacingAndGlyphs">6.00%</text>
<text transform="translate(1139.7,569.3) rotate(-90)" textLength="39" lengthAdjust="spacingAndGlyphs">0.30%</text>
<text transform="translate(1169.7,559) rotate(-90)" textLength="39" lengthAdjust="spacingAndGlyphs">0.80%</text>
<text transform="translate(1199.7,561.7) rotate(-90)" textLength="44.5" lengthAdjust="spacingAndGlyphs">-0.20%</text>
<text transform="translate(1229.7,527.3) rotate(-90)" textLength="39" lengthAdjust="spacingAndGlyphs">2.40%</text>
<text transform="translate(1259.7,538.7) rotate(-90)" textLength="44.5" lengthAdjust="spacingAndGlyphs">-0.80%</text>
<text transform="translate(1289.7,543.7) rotate(-90)" textLength="44.5" lengthAdjust="spacingAndGlyphs">-0.30%</text>
<text transform="translate(1319.7,519.7) rotate(-90)" textLength="39" lengthAdjust="spacingAndGlyphs">1.60%</text>
<text transform="translate(1349.7,520.7) rotate(-90)" textLength="44.5" lengthAdjust="spacingAndGlyphs">-0.10%</text>
</g>
</svg>
</body></html>
